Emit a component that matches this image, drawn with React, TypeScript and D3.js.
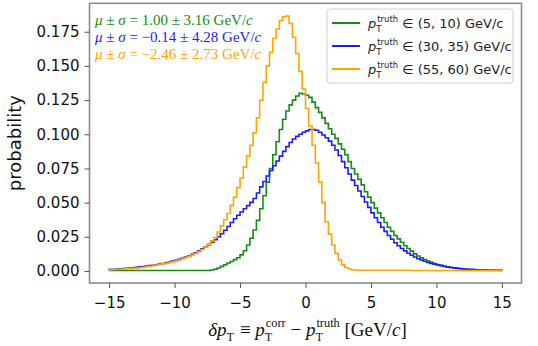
import React, { useEffect, useRef } from 'react';
import * as d3 from 'd3';

// histogram binning: 120 bins of 0.25 GeV/c between -15 and 15
const binStart = -15;
const binWidth = 0.25;

// probability per bin, pT truth in (5, 10) GeV/c
const green5to10 = [
  0.0004, 0.0004, 0.0004, 0.0004, 0.0004, 0.0004, 0.0004, 0.0004,
  0.0004, 0.0004, 0.0004, 0.0004, 0.0004, 0.0004, 0.0004, 0.0004,
  0.0004, 0.0004, 0.0004, 0.0004, 0.0004, 0.0004, 0.0004, 0.0004,
  0.0004, 0.0004, 0.0004, 0.0004, 0.0004, 0.0004, 0.0004, 0.0007,
  0.0013, 0.0022, 0.0034, 0.0046, 0.0058, 0.0070, 0.0083, 0.0097,
  0.0118, 0.0148, 0.0190, 0.0240, 0.0300, 0.0370, 0.0455, 0.0550,
  0.0650, 0.0750, 0.0850, 0.0945, 0.1035, 0.1110, 0.1170, 0.1215,
  0.1250, 0.1280, 0.1300, 0.1295, 0.1285, 0.1270, 0.1235, 0.1195,
  0.1160, 0.1120, 0.1080, 0.1040, 0.1000, 0.0970, 0.0930, 0.0890,
  0.0850, 0.0800, 0.0750, 0.0710, 0.0670, 0.0630, 0.0580, 0.0540,
  0.0500, 0.0460, 0.0425, 0.0390, 0.0355, 0.0320, 0.0290, 0.0260,
  0.0235, 0.0210, 0.0185, 0.0165, 0.0145, 0.0125, 0.0110, 0.0096,
  0.0084, 0.0073, 0.0064, 0.0055, 0.0048, 0.0041, 0.0035, 0.0030,
  0.0026, 0.0022, 0.0019, 0.0016, 0.0014, 0.0012, 0.0011, 0.0010,
  0.0009, 0.0008, 0.0007, 0.0006, 0.0006, 0.0005, 0.0005, 0.0004,
];

// pT truth in (30, 35) GeV/c
const blue30to35 = [
  0.0012, 0.0013, 0.0015, 0.0016, 0.0018, 0.0020, 0.0022, 0.0024,
  0.0027, 0.0030, 0.0033, 0.0036, 0.0039, 0.0042, 0.0046, 0.0050,
  0.0055, 0.0060, 0.0066, 0.0072, 0.0078, 0.0085, 0.0093, 0.0102,
  0.0112, 0.0122, 0.0134, 0.0148, 0.0162, 0.0177, 0.0193, 0.0210,
  0.0228, 0.0250, 0.0272, 0.0298, 0.0325, 0.0355, 0.0382, 0.0408,
  0.0432, 0.0455, 0.0478, 0.0502, 0.0530, 0.0570, 0.0615, 0.0655,
  0.0695, 0.0735, 0.0770, 0.0805, 0.0840, 0.0875, 0.0910, 0.0940,
  0.0965, 0.0985, 0.1000, 0.1015, 0.1025, 0.1035, 0.1035, 0.1030,
  0.1015, 0.0995, 0.0975, 0.0950, 0.0920, 0.0885, 0.0845, 0.0800,
  0.0755, 0.0710, 0.0665, 0.0625, 0.0585, 0.0545, 0.0505, 0.0465,
  0.0425, 0.0390, 0.0355, 0.0320, 0.0290, 0.0260, 0.0232, 0.0207,
  0.0185, 0.0165, 0.0147, 0.0130, 0.0115, 0.0102, 0.0090, 0.0080,
  0.0071, 0.0063, 0.0056, 0.0050, 0.0044, 0.0039, 0.0034, 0.0030,
  0.0026, 0.0023, 0.0020, 0.0017, 0.0015, 0.0013, 0.0012, 0.0010,
  0.0009, 0.0008, 0.0007, 0.0007, 0.0006, 0.0006, 0.0005, 0.0005,
];

// pT truth in (55, 60) GeV/c
const orange55to60 = [
  0.0010, 0.0011, 0.0012, 0.0013, 0.0014, 0.0016, 0.0017, 0.0019,
  0.0021, 0.0024, 0.0027, 0.0031, 0.0034, 0.0038, 0.0043, 0.0048,
  0.0052, 0.0056, 0.0061, 0.0067, 0.0073, 0.0080, 0.0088, 0.0098,
  0.0107, 0.0117, 0.0128, 0.0142, 0.0157, 0.0175, 0.0195, 0.0220,
  0.0245, 0.0285, 0.0330, 0.0375, 0.0420, 0.0480, 0.0540, 0.0610,
  0.0680, 0.0760, 0.0840, 0.0920, 0.1010, 0.1120, 0.1250, 0.1380,
  0.1500, 0.1600, 0.1700, 0.1770, 0.1830, 0.1860, 0.1865, 0.1810,
  0.1710, 0.1590, 0.1460, 0.1330, 0.1190, 0.1060, 0.0920, 0.0790,
  0.0650, 0.0500, 0.0360, 0.0270, 0.0190, 0.0130, 0.0080, 0.0045,
  0.0026, 0.0015, 0.0009, 0.0007, 0.0006, 0.0006, 0.0006, 0.0005,
  0.0005, 0.0005, 0.0005, 0.0005, 0.0005, 0.0005, 0.0005, 0.0005,
  0.0005, 0.0005, 0.0005, 0.0005, 0.0004, 0.0004, 0.0004, 0.0004,
  0.0004, 0.0004, 0.0004, 0.0004, 0.0004, 0.0004, 0.0004, 0.0004,
  0.0004, 0.0004, 0.0004, 0.0004, 0.0003, 0.0003, 0.0003, 0.0003,
  0.0003, 0.0003, 0.0003, 0.0003, 0.0003, 0.0003, 0.0003, 0.0003,
];

const seriesValues = [green5to10, blue30to35, orange55to60];
const seriesColors = ['#168c16', '#1c1cff', '#ffa500'];
const ptRanges = ['(5, 10)', '(30, 35)', '(55, 60)'];
const meanSigma = ['1.00 ± 3.16', '−0.14 ± 4.28', '−2.46 ± 2.73'];

const xTicks = [-15, -10, -5, 0, 5, 10, 15];
const yTicks = [0, 0.025, 0.05, 0.075, 0.1, 0.125, 0.15, 0.175];

const W = 538;
const H = 346;
const plot = { left: 89.5, right: 521.5, top: 3.3, bottom: 283 };

type Run = { t?: string; italic?: boolean; sup?: string; sub?: string };

// lays out text pieces side by side, measuring each one
function richText(parent: any, x: number, y: number, runs: Run[], size: number, family: string, fill: string, anchor = 'start') {
  const g = parent.append('g');
  let cx = 0;
  const piece = (str: string, px: number, py: number, fs: number, italic: boolean) => {
    const t = g.append('text')
      .attr('x', px).attr('y', py)
      .attr('font-size', fs)
      .attr('font-family', family)
      .attr('font-style', italic ? 'italic' : 'normal')
      .attr('fill', fill)
      .style('white-space', 'pre')
      .text(str);
    return (t.node() as SVGTextElement).getComputedTextLength();
  };
  for (const r of runs) {
    if (r.t) cx += piece(r.t, cx, 0, size, !!r.italic);
    if (r.sup || r.sub) {
      let w = 0;
      if (r.sup) w = Math.max(w, piece(r.sup, cx + 1, -size * 0.45, size * 0.65, false));
      if (r.sub) w = Math.max(w, piece(r.sub, cx, size * 0.28, size * 0.65, false));
      cx += w + 1;
    }
  }
  const dx = anchor === 'middle' ? -cx / 2 : anchor === 'end' ? -cx : 0;
  g.attr('transform', `translate(${x + dx},${y})`);
  return cx;
}

function App() {
  const svgRef = useRef<SVGSVGElement>(null);

  useEffect(() => {
    if (!svgRef.current) return;
    const svg = d3.select(svgRef.current);
    svg.selectAll('*').remove();

    const xScale = d3.scaleLinear().domain([-16.5, 16.5]).range([plot.left, plot.right]);
    const yScale = d3.scaleLinear().domain([-0.00878, 0.1958]).range([plot.bottom, plot.top]);

    svg.append('rect').attr('width', W).attr('height', H).attr('fill', 'white');

    // step histograms
    const line = d3.line<[number, number]>()
      .x(d => xScale(d[0]))
      .y(d => yScale(d[1]))
      .curve(d3.curveStepAfter);

    seriesValues.forEach((vals, k) => {
      const pts: [number, number][] = [[binStart, 0]];
      vals.forEach((v, i) => pts.push([binStart + i * binWidth, v]));
      const end = binStart + vals.length * binWidth;
      pts.push([end, vals[vals.length - 1]]);
      pts.push([end, 0]);
      svg.append('path')
        .datum(pts)
        .attr('fill', 'none')
        .attr('stroke', seriesColors[k])
        .attr('stroke-width', 1.6)
        .attr('d', line);
    });

    // frame
    svg.append('rect')
      .attr('x', plot.left).attr('y', plot.top)
      .attr('width', plot.right - plot.left).attr('height', plot.bottom - plot.top)
      .attr('fill', 'none').attr('stroke', '#8c8c8c').attr('stroke-width', 1.6);

    // x axis
    const xAxis = svg.append('g').attr('transform', `translate(0,${plot.bottom})`)
      .call(d3.axisBottom(xScale).tickValues(xTicks).tickSize(5).tickPadding(9).tickFormat(d3.format('d')));
    xAxis.select('.domain').remove();
    xAxis.selectAll('line').attr('stroke', '#555').attr('stroke-width', 1);
    xAxis.selectAll('text').attr('font-size', 15).attr('font-family', 'DejaVu Sans').attr('fill', '#111');

    // y axis
    const yAxis = svg.append('g').attr('transform', `translate(${plot.left},0)`)
      .call(d3.axisLeft(yScale).tickValues(yTicks).tickSize(5).tickPadding(5).tickFormat(d3.format('.3f')));
    yAxis.select('.domain').remove();
    yAxis.selectAll('line').attr('stroke', '#555').attr('stroke-width', 1);
    yAxis.selectAll('text').attr('font-size', 15).attr('font-family', 'DejaVu Sans').attr('fill', '#111');

    svg.append('text')
      .attr('transform', `translate(20.5,${(plot.top + plot.bottom) / 2}) rotate(-90)`)
      .attr('text-anchor', 'middle')
      .attr('font-size', 18).attr('font-family', 'DejaVu Sans').attr('fill', '#111')
      .text('probability');

    richText(svg, (plot.left + plot.right) / 2 + 2, 336, [
      { t: 'δ', italic: true },
      { t: 'p', italic: true, sub: 'T' },
      { t: ' ≡ ' },
      { t: 'p', italic: true, sup: 'corr', sub: 'T' },
      { t: ' − ' },
      { t: 'p', italic: true, sup: 'truth', sub: 'T' },
      { t: ' [GeV/' },
      { t: 'c', italic: true },
      { t: ']' },
    ], 19, 'Liberation Serif', '#111', 'middle');

    // mean +- sigma annotations
    meanSigma.forEach((s, k) => {
      richText(svg, 95, 24.5 + k * 17.3, [
        { t: 'μ', italic: true },
        { t: ' ± ' },
        { t: 'σ', italic: true },
        { t: ` = ${s} GeV/` },
        { t: 'c', italic: true },
      ], 15, 'Liberation Serif', seriesColors[k]);
    });

    // legend
    const lg = svg.append('g');
    lg.append('rect')
      .attr('x', 327).attr('y', 9).attr('width', 186).attr('height', 74).attr('rx', 3)
      .attr('fill', 'white').attr('fill-opacity', 0.8)
      .attr('stroke', '#d0d0d0').attr('stroke-width', 1);
    ptRanges.forEach((r, k) => {
      const yy = 23 + k * 23;
      lg.append('line')
        .attr('x1', 332).attr('x2', 360).attr('y1', yy).attr('y2', yy)
        .attr('stroke', seriesColors[k]).attr('stroke-width', 2);
      richText(lg, 368, yy + 5, [
        { t: 'p', italic: true, sup: 'truth', sub: 'T' },
        { t: ` ∈ ${r} GeV/c` },
      ], 13, 'DejaVu Sans', '#222');
    });
  }, []);

  return (
    <svg ref={svgRef} width={W} height={H} style={{ position: 'absolute', left: 0, top: 0, display: 'block' }} />
  );
}

export default App;
